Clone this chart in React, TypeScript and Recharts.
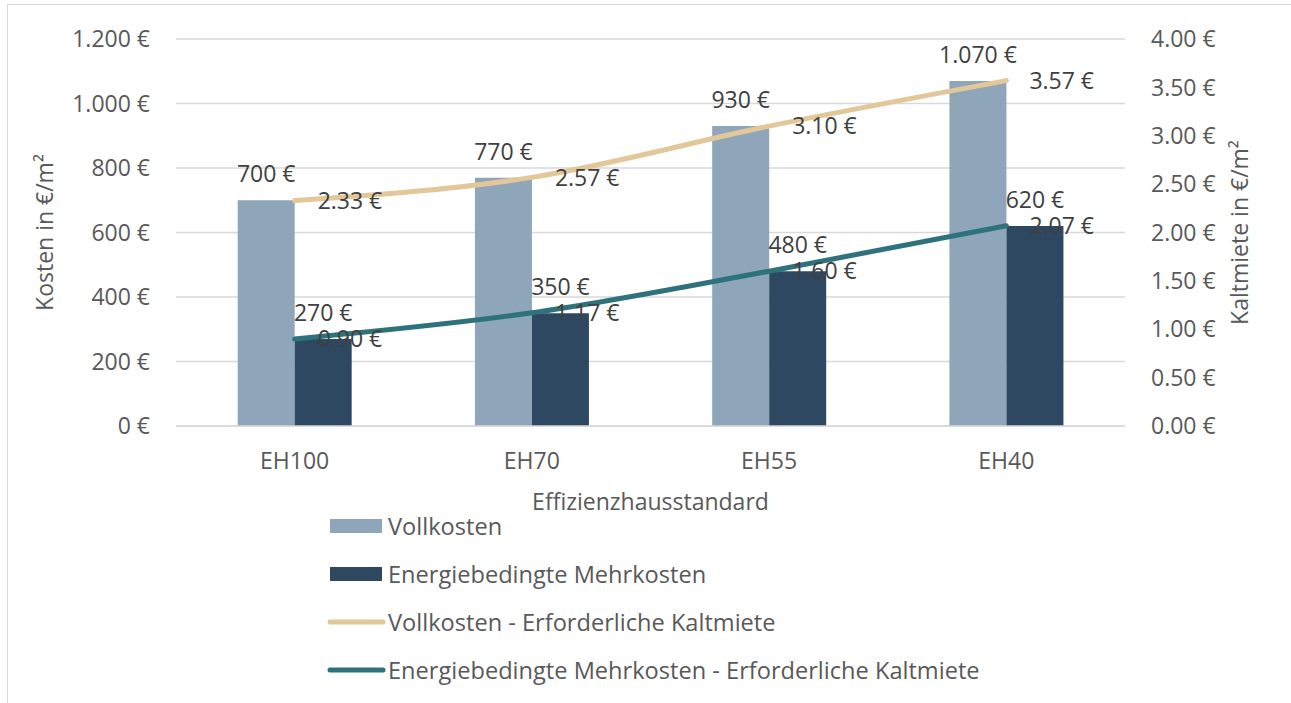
import React from "react";
import { ComposedChart, Bar, Line, XAxis, YAxis, CartesianGrid, Legend, LabelList } from "recharts";

const categories = ["EH100", "EH70", "EH55", "EH40"];
const vollkosten = [700, 770, 930, 1070];
const mehrkosten = [270, 350, 480, 620];
const vollMiete = [2.33, 2.57, 3.1, 3.57];
const mehrMiete = [0.9, 1.17, 1.6, 2.07];
const leftTicks = [0, 200, 400, 600, 800, 1000, 1200];
const rightTicks = [0, 0.5, 1, 1.5, 2, 2.5, 3, 3.5, 4];

const FONT = "'Open Sans', 'DejaVu Sans', sans-serif";
const TICK_COLOR = "#595959";
const LABEL_COLOR = "#404040";

const series = [
  { key: "voll", name: "Vollkosten", color: "#8FA5BA", type: "bar" },
  { key: "mehr", name: "Energiebedingte Mehrkosten", color: "#2E4862", type: "bar" },
  { key: "vollMiete", name: "Vollkosten - Erforderliche Kaltmiete", color: "#E2C799", type: "line" },
  { key: "mehrMiete", name: "Energiebedingte Mehrkosten - Erforderliche Kaltmiete", color: "#2E737B", type: "line" },
];

const data = categories.map((c, i) => ({
  name: c,
  voll: vollkosten[i],
  mehr: mehrkosten[i],
  vollMiete: vollMiete[i],
  mehrMiete: mehrMiete[i],
}));

const euroDE = (v: number) => v.toLocaleString("de-DE") + " €";
const euro2 = (v: number) => v.toFixed(2) + " €";

const LegendBox = () => (
  <div style={{ fontFamily: FONT, fontSize: 23.6, color: TICK_COLOR }}>
    {series.map((s) => (
      <div key={s.key} style={{ display: "flex", alignItems: "center", height: 48 }}>
        <svg width={60} height={20} style={{ marginRight: 2 }}>
          {s.type === "bar" ? (
            <rect x={4} y={3} width={52} height={14} fill={s.color} />
          ) : (
            <line x1={4} y1={10} x2={57} y2={10} stroke={s.color} strokeWidth={5} strokeLinecap="round" />
          )}
        </svg>
        <span style={{ lineHeight: "24px" }}>{s.name}</span>
      </div>
    ))}
  </div>
);

export default function App() {
  const tickStyle = { fill: TICK_COLOR, fontSize: 23, fontFamily: FONT };
  const labelStyle = { fill: LABEL_COLOR, fontSize: 23, fontFamily: FONT };
  return (
    <div style={{ position: "absolute", left: 0, top: 0, width: 1291, height: 703, overflow: "hidden", background: "#fff" }}>
      <div style={{ position: "absolute", left: 7, top: 4, width: 1320, height: 740, border: "1.5px solid #d9d9d9" }} />
      <ComposedChart
        width={1291}
        height={703}
        data={data}
        margin={{ top: 39, right: 0, bottom: 177, left: 0 }}
        barGap={0}
        barCategoryGap="26%"
        style={{ fontFamily: FONT }}
      >
        <CartesianGrid yAxisId="left" vertical={false} stroke="#d9d9d9" strokeWidth={1.5} />
        <XAxis
          dataKey="name"
          height={100}
          tickLine={false}
          tickSize={0}
          tickMargin={27}
          axisLine={{ stroke: "#d9d9d9", strokeWidth: 1.5 }}
          tick={tickStyle}
          label={{ value: "Effizienzhausstandard", position: "insideBottom", offset: 16, style: { ...tickStyle, textAnchor: "middle" } }}
        />
        <YAxis
          yAxisId="left"
          width={176}
          domain={[0, 1200]}
          ticks={leftTicks}
          tickFormatter={euroDE}
          axisLine={false}
          tickLine={false}
          tickSize={0}
          tickMargin={26}
          tick={tickStyle}
          label={{ value: "Kosten in €/m²", angle: -90, position: "insideLeft", offset: 45, style: { ...tickStyle, textAnchor: "middle" } }}
        />
        <YAxis
          yAxisId="right"
          orientation="right"
          width={166}
          domain={[0, 4]}
          ticks={rightTicks}
          tickFormatter={euro2}
          axisLine={false}
          tickLine={false}
          tickSize={0}
          tickMargin={26}
          tick={tickStyle}
          label={{ value: "Kaltmiete in €/m²", angle: -90, position: "insideRight", offset: 51, style: { ...tickStyle, textAnchor: "middle" } }}
        />
        <Legend
          layout="vertical"
          align="center"
          verticalAlign="middle"
          content={() => <LegendBox />}
          wrapperStyle={{ top: 502, left: 326, width: 720 }}
        />
        <Bar yAxisId="left" dataKey="voll" name="Vollkosten" fill="#8FA5BA" isAnimationActive={false}>
          <LabelList dataKey="voll" position="top" offset={18} formatter={euroDE} style={labelStyle} />
        </Bar>
        <Bar yAxisId="left" dataKey="mehr" name="Energiebedingte Mehrkosten" fill="#2E4862" isAnimationActive={false}>
          <LabelList dataKey="mehr" position="top" offset={18} formatter={euroDE} style={labelStyle} />
        </Bar>
        <Line
          yAxisId="right"
          type="monotone"
          dataKey="vollMiete"
          name="Vollkosten - Erforderliche Kaltmiete"
          stroke="#E2C799"
          strokeWidth={5}
          strokeLinecap="round"
          dot={false}
          activeDot={false}
          isAnimationActive={false}
        >
          <LabelList dataKey="vollMiete" position="right" offset={23} formatter={euro2} style={labelStyle} />
        </Line>
        <Line
          yAxisId="right"
          type="monotone"
          dataKey="mehrMiete"
          name="Energiebedingte Mehrkosten - Erforderliche Kaltmiete"
          stroke="#2E737B"
          strokeWidth={5}
          strokeLinecap="round"
          dot={false}
          activeDot={false}
          isAnimationActive={false}
        >
          <LabelList dataKey="mehrMiete" position="right" offset={23} formatter={euro2} style={labelStyle} />
        </Line>
      </ComposedChart>
    </div>
  );
}
